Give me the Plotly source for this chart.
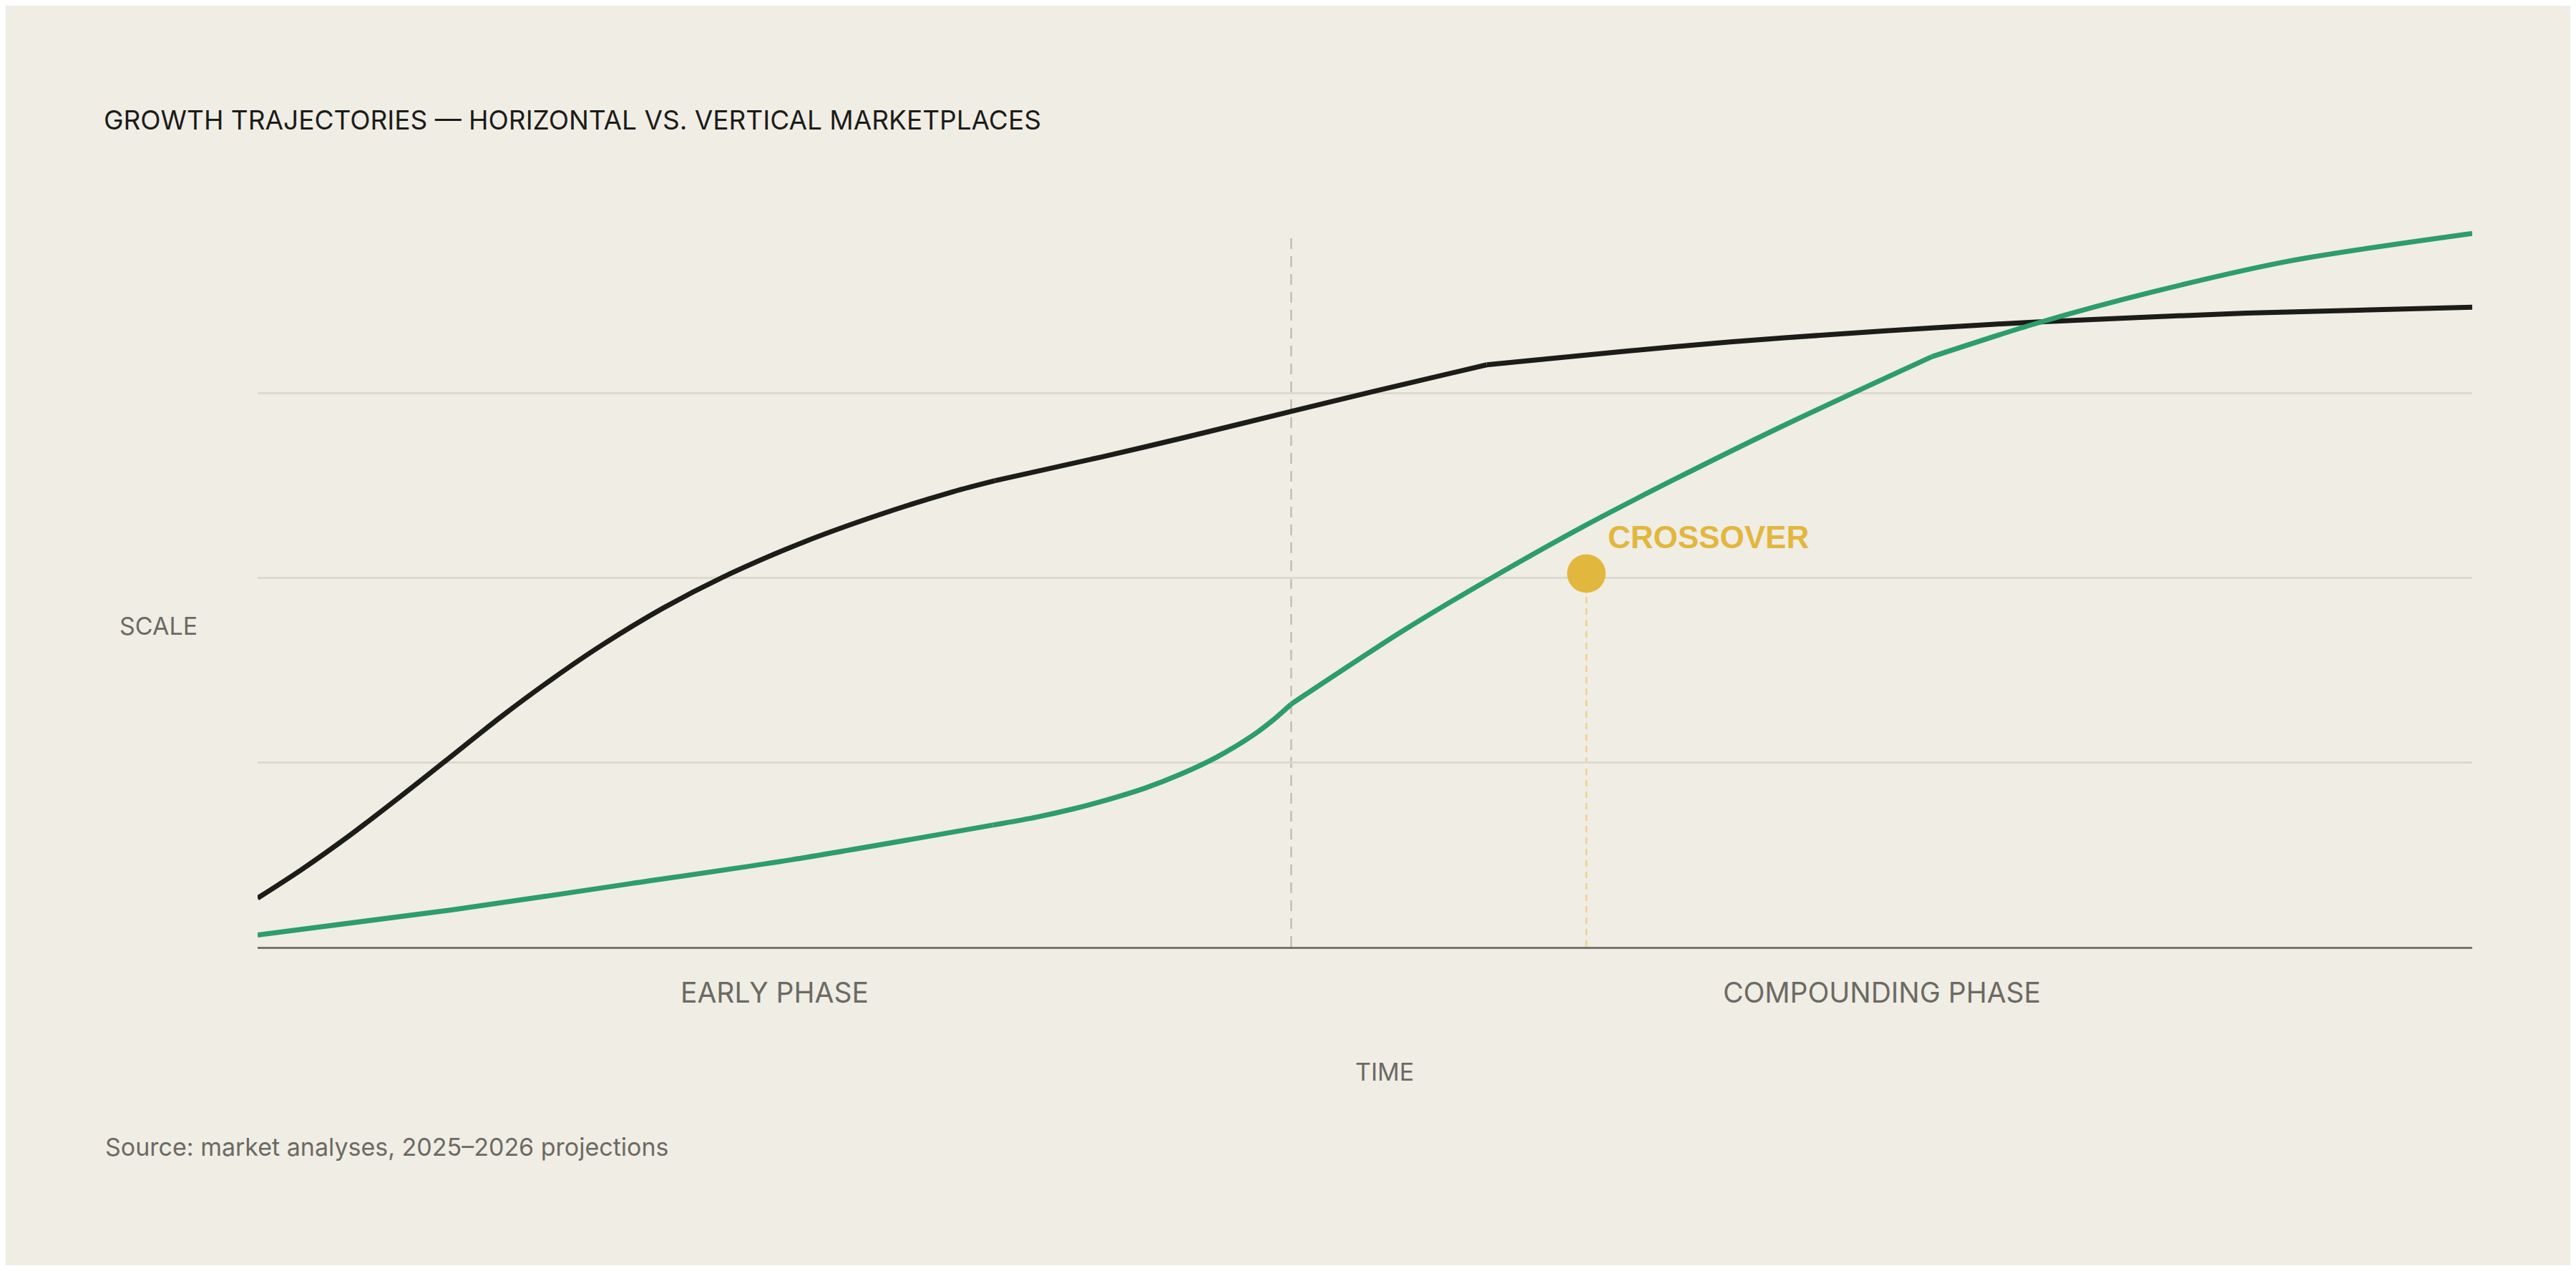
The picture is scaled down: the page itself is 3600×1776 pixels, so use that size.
import plotly.graph_objects as go

# Values (time 0-100, scale axis 0-100)
time_horizontal = [0, 1.95, 4.2, 6.5, 8.4, 11.0, 13.3, 15.55, 18.3, 21.0, 24.6, 28.0, 31.4, 33.3,
                   38.1, 41.8, 46.7, 50.4, 55.5,
                   61.6, 66.5, 71.5, 75.6, 80.3, 89.8, 100]
scale_horizontal = [6.6, 10.4, 15.2, 20.5, 25.0, 31.2, 36.3, 40.9, 45.9, 50.1, 54.8, 58.5, 61.7, 63.2,
                    66.4, 69.0, 72.6, 75.3, 78.9,
                    80.7, 82.0, 83.1, 83.9, 84.7, 85.9, 86.7]
kinks_horizontal = [33.3, 55.5]

time_vertical = [0, 8.75, 16.7, 24.1, 33.2,
                 35.2, 36.83, 38.45, 40.06, 41.68, 43.3, 44.91, 45.88, 46.67,
                 51.7, 55.6, 60, 64, 69, 75.6,
                 80.3, 85.6, 91.8, 100]
scale_vertical = [1.6, 5.0, 8.5, 11.8, 16.5,
                  17.6, 18.7, 20.0, 21.5, 23.4, 25.7, 28.6, 30.8, 32.9,
                  42.8, 49.8, 57.2, 63.4, 70.8, 80.0,
                  84.5, 88.8, 93.0, 96.7]
kinks_vertical = [33.2, 46.67, 75.6]

phase_split = 46.67
phase_labels = ["EARLY PHASE", "COMPOUNDING PHASE"]
phase_centers = [23.33, 73.33]

crossover_time = [60]
crossover_scale = [50.6]

grid_values = [25, 50, 75]

BG = "#f0ede5"
INK = "#1c1c19"
GREEN = "#2c9d6b"
GOLD = "#e2b73d"
MUTED = "#6b6a64"
FONT = "Inter, Lato, sans-serif"


def split_at(xs, ys, breaks):
    # one smooth piece between each pair of kinks
    pieces = []
    start = 0
    for b in breaks + [xs[-1]]:
        end = xs.index(b)
        pieces.append((xs[start:end + 1], ys[start:end + 1]))
        start = end
    return pieces


fig = go.Figure()

for xs, ys, kinks, color in [
    (time_horizontal, scale_horizontal, kinks_horizontal, INK),
    (time_vertical, scale_vertical, kinks_vertical, GREEN),
]:
    for px_, py_ in split_at(xs, ys, kinks):
        fig.add_trace(go.Scatter(
            x=px_, y=py_, mode="lines",
            line=dict(color=color, width=7, shape="spline", smoothing=0.8),
            hoverinfo="skip",
        ))

# Phase divider and crossover guide
fig.add_shape(type="line", x0=phase_split, x1=phase_split, y0=0, y1=97.0,
              line=dict(color="#c2beb4", width=2.5, dash="15px,10px"), layer="below")
fig.add_shape(type="line", x0=crossover_time[0], x1=crossover_time[0], y0=0, y1=crossover_scale[0],
              line=dict(color="#ead48c", width=2.5, dash="9px,7px"), layer="below")

fig.add_trace(go.Scatter(
    x=crossover_time, y=crossover_scale, mode="markers",
    marker=dict(color=GOLD, size=54), hoverinfo="skip",
))

fig.add_annotation(x=60.9, y=55.5, text="<b>CROSSOVER</b>", showarrow=False,
                   xanchor="left", yanchor="middle",
                   font=dict(family="Liberation Sans, Arial, sans-serif", size=44, color=GOLD))

for label, cx in zip(phase_labels, phase_centers):
    fig.add_annotation(x=cx, y=-0.063, yref="paper", text=label, showarrow=False,
                       xanchor="center", yanchor="middle",
                       font=dict(family=FONT, size=39, color=MUTED))

fig.add_annotation(x=50.9, y=-0.174, yref="paper", text="TIME", showarrow=False,
                   xanchor="center", yanchor="middle",
                   font=dict(family=FONT, size=34, color=MUTED))
fig.add_annotation(x=-0.063, xref="paper", y=0.446, yref="paper", text="SCALE", showarrow=False,
                   xanchor="left", yanchor="middle",
                   font=dict(family=FONT, size=34, color=MUTED))
fig.add_annotation(x=-0.0695, xref="paper", y=-0.2786, yref="paper",
                   text="Source: market analyses, 2025–2026 projections", showarrow=False,
                   xanchor="left", yanchor="middle",
                   font=dict(family=FONT, size=34, color=MUTED))

# 3584x1760 so the page body margin does not push the figure into scrollbars
fig.update_layout(
    width=3584, height=1760,
    margin=dict(l=352, r=137, t=310, b=445),
    paper_bgcolor=BG, plot_bgcolor=BG,
    showlegend=False,
    title=dict(text="GROWTH TRAJECTORIES — HORIZONTAL VS. VERTICAL MARKETPLACES",
               x=0.0382, xref="container", xanchor="left",
               y=0.9091, yref="container", yanchor="middle",
               font=dict(family=FONT, size=37, color=INK)),
)
fig.update_xaxes(range=[0, 100], showgrid=False, zeroline=False, showticklabels=False,
                 ticks="", showline=True, linecolor="#77756e", linewidth=3)
fig.update_yaxes(range=[0, 97.5], tickvals=grid_values, showgrid=True, gridcolor="#dcd9d0",
                 gridwidth=2.5, zeroline=False, showticklabels=False, ticks="", showline=False)

fig.write_html("out.html")
